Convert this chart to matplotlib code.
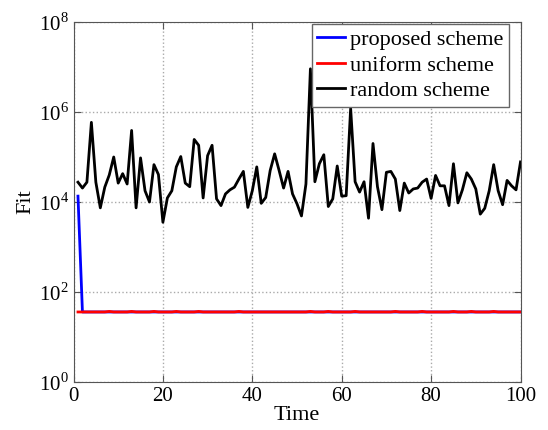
import matplotlib
matplotlib.use('Agg')
import matplotlib.pyplot as plt
from matplotlib.ticker import FixedLocator, NullLocator

plt.rcParams.update({
    'font.family': ['Liberation Serif', 'DejaVu Serif'],
    'mathtext.fontset': 'custom',
    'mathtext.rm': 'Liberation Serif',
    'font.size': 15,
    'axes.edgecolor': '#555555',
})

# time steps
time = list(range(1, 101))

# random scheme, log10 of fit
random_log = [4.44, 4.31, 4.44, 5.77, 4.44, 3.87, 4.33, 4.60, 5.00, 4.42,
              4.63, 4.40, 5.59, 3.87, 4.98, 4.25, 4.00, 4.83, 4.61, 3.55,
              4.09, 4.25, 4.78, 5.01, 4.42, 4.34, 5.39, 5.26, 4.09, 5.03,
              5.26, 4.07, 3.92, 4.18, 4.27, 4.33, 4.51, 4.68, 3.88, 4.25,
              4.78, 3.97, 4.10, 4.70, 5.07, 4.70, 4.31, 4.68, 4.18, 3.96,
              3.69, 4.40, 6.96, 4.45, 4.85, 5.05, 3.90, 4.07, 4.80, 4.13,
              4.14, 6.08, 4.45, 4.22, 4.45, 3.64, 5.30, 4.34, 3.83, 4.66,
              4.68, 4.51, 3.81, 4.42, 4.20, 4.29, 4.31, 4.44, 4.51, 4.08,
              4.59, 4.36, 4.36, 3.92, 4.85, 3.98, 4.27, 4.65, 4.51, 4.29,
              3.73, 3.86, 4.25, 4.83, 4.25, 3.94, 4.48, 4.36, 4.27, 4.89]
random_fit = [10 ** v for v in random_log]

# proposed scheme: high first value, then flat
proposed_fit = [13500] + [36] * 99

# uniform scheme: flat with tiny bumps
uniform_fit = [36] * 100
for i in [7, 12, 17, 22, 27, 36, 52, 56, 62, 71, 77, 84, 88, 93]:
    uniform_fit[i] = 37

fig = plt.figure(figsize=(5.48, 4.30), dpi=100)
ax = fig.add_axes([73.5 / 548, 1 - 382 / 430, (520.5 - 73.5) / 548, (382 - 22) / 430])

ax.semilogy(time, proposed_fit, color='#0000ff', linewidth=2, label='proposed scheme')
ax.semilogy(time, uniform_fit, color='#ff0000', linewidth=2, label='uniform scheme')
ax.semilogy(time, random_fit, color='black', linewidth=2, label='random scheme')

ax.set_xlim(0, 100)
ax.set_ylim(1, 1e8)
ax.set_xticks([0, 20, 40, 60, 80, 100])
ax.yaxis.set_major_locator(FixedLocator([1, 1e2, 1e4, 1e6, 1e8]))
ax.yaxis.set_minor_locator(NullLocator())
ax.set_yticklabels([r'$10^{%d}$' % p for p in [0, 2, 4, 6, 8]])
ax.tick_params(direction='in', top=True, right=True, length=5, labelsize=15,
               color='#555555')
ax.grid(True, linestyle=':', color='#aaaaaa', linewidth=1)

ax.set_xlabel('Time', fontsize=16, labelpad=0)
ax.set_ylabel('Fit', fontsize=16, labelpad=2)

leg = ax.legend(loc='upper right', bbox_to_anchor=(0.975, 0.994), fontsize=16,
                fancybox=False, framealpha=1, edgecolor='#666666',
                handlelength=1.25, handletextpad=0.25, borderpad=0.25,
                labelspacing=0.22, borderaxespad=0)
leg.get_frame().set_linewidth(1)

fig.savefig('out.png', dpi=100)
